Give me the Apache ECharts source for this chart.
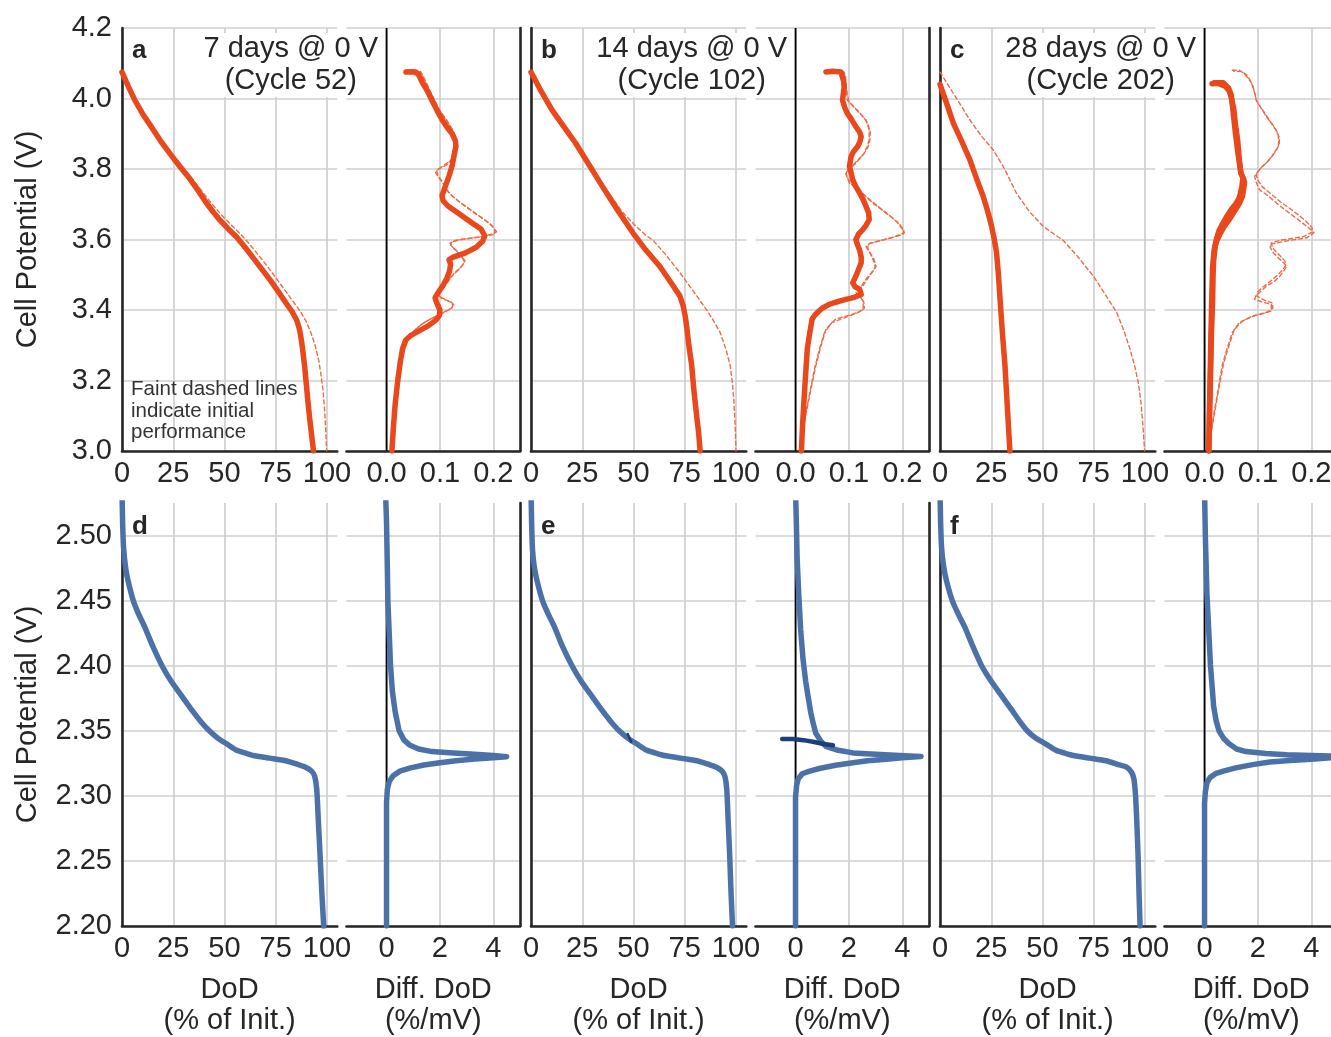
<!DOCTYPE html>
<html>
<head>
<meta charset="utf-8">
<script src="https://cdn.jsdelivr.net/npm/echarts@6/dist/echarts.min.js"></script>
<style>
  html, body { margin: 0; padding: 0; background: #ffffff; }
  #chart { width: 1331px; height: 1037px; }
</style>
</head>
<body>
<div id="chart"></div>
<script>
// ---- Text content ----------------------------------------------------------
const storageLabels = ['7 days @ 0 V', '14 days @ 0 V', '28 days @ 0 V'];
const cycleLabels = ['(Cycle 52)', '(Cycle 102)', '(Cycle 202)'];
const panelLetters = ['a', 'b', 'c', 'd', 'e', 'f'];
const noteLines = ['Faint dashed lines', 'indicate initial', 'performance'];
const yAxisTitle = 'Cell Potential (V)';
const dodAxisTitle = ['DoD', '(% of Init.)'];
const diffAxisTitle = ['Diff. DoD', '(%/mV)'];

// ---- Tick labels -----------------------------------------------------------
const voltTopTicks = ['3.0', '3.2', '3.4', '3.6', '3.8', '4.0', '4.2'];
const voltBottomTicks = ['2.20', '2.25', '2.30', '2.35', '2.40', '2.45', '2.50'];
const dodTicks = ['0', '25', '50', '75', '100'];
const diffTopTicks = ['0.0', '0.1', '0.2'];
const diffBottomTicks = ['0', '2', '4'];

// ---- Reference line in the differential panels -----------------------------
const zeroDiff = 0;

// ---- Top row: NMC cells, discharge curves [DoD %, V] ----------------------
const aDodNow = [[0,4.075],[3,4.035],[6.3,3.995],[10,3.957],[14.5,3.918],[19,3.878],[24.5,3.835],[28.5,3.805],[32.7,3.775],[37,3.74],[41,3.705],[44.5,3.678],[47.6,3.656],[51.5,3.632],[55.9,3.607],[60,3.578],[64,3.548],[68.2,3.516],[72.4,3.484],[76.5,3.45],[80,3.42],[83,3.395],[85.3,3.37],[86.6,3.345],[87.5,3.315],[88.3,3.28],[89.1,3.24],[89.9,3.19],[90.7,3.14],[91.6,3.09],[92.5,3.045],[93.4,3.0]];
const aDodInit = [[0,4.075],[3.3,4.035],[6.8,3.995],[11,3.955],[15.5,3.915],[20.5,3.873],[26,3.832],[30.5,3.8],[35,3.767],[39.5,3.733],[44,3.7],[48.5,3.67],[53,3.643],[57.5,3.617],[61.5,3.592],[66,3.56],[70.5,3.527],[75,3.492],[79,3.46],[83,3.428],[86.8,3.398],[89.8,3.368],[92.2,3.335],[94.2,3.3],[95.8,3.262],[97,3.22],[98,3.175],[98.8,3.12],[99.4,3.06],[99.8,3.0]];

const bDodNow = [[0,4.075],[5,4.02],[10.3,3.967],[16,3.92],[21.8,3.873],[28,3.815],[34.9,3.75],[42,3.685],[49.7,3.619],[56,3.57],[62.8,3.524],[68,3.48],[72.6,3.44],[74.3,3.41],[75.3,3.38],[76,3.35],[77,3.3],[78.4,3.242],[79.5,3.17],[80.8,3.1],[81.8,3.05],[82.5,3.0]];
const bDodInit = [[0,4.075],[5,4.02],[10,3.97],[15,3.925],[20.2,3.88],[29,3.8],[38.2,3.73],[45,3.675],[51.3,3.637],[56,3.612],[59.5,3.598],[66,3.555],[72.6,3.506],[79,3.455],[85.7,3.4],[89,3.37],[92.3,3.336],[95,3.29],[97.2,3.242],[98.3,3.19],[98.9,3.148],[99.6,3.07],[100,3.0]];

const cDodNow = [[0,4.04],[3,3.99],[6.5,3.93],[10.5,3.88],[14.6,3.826],[18,3.77],[21.1,3.722],[23.5,3.675],[25.2,3.637],[26.5,3.6],[27.6,3.562],[28.5,3.5],[29.3,3.43],[30.5,3.33],[31.7,3.242],[32.9,3.12],[34.1,3.0]];
const cDodInit = [[0,4.075],[7,4.01],[14.6,3.939],[20,3.895],[26,3.854],[31.5,3.8],[37.4,3.73],[43.5,3.68],[50.4,3.637],[55,3.618],[60,3.598],[67,3.553],[74.8,3.496],[80.5,3.445],[86.2,3.393],[89.8,3.34],[92.7,3.289],[95,3.24],[96.7,3.195],[98,3.14],[99,3.07],[99.8,3.0]];

// ---- Top row: differential DoD [%/mV, V] ----------------------------------
const aDiffNow = [[0.0365,4.075],[0.05,4.076],[0.059,4.07],[0.064,4.055],[0.069,4.04],[0.077,4.02],[0.085,3.995],[0.095,3.965],[0.104,3.94],[0.115,3.915],[0.123,3.9],[0.129,3.88],[0.13,3.865],[0.128,3.85],[0.123,3.81],[0.117,3.78],[0.11,3.75],[0.104,3.725],[0.106,3.71],[0.115,3.695],[0.136,3.673],[0.162,3.645],[0.177,3.63],[0.184,3.61],[0.18,3.595],[0.168,3.578],[0.148,3.562],[0.125,3.55],[0.117,3.543],[0.12,3.53],[0.118,3.51],[0.113,3.49],[0.106,3.47],[0.097,3.45],[0.091,3.435],[0.094,3.42],[0.1,3.4],[0.099,3.385],[0.093,3.372],[0.078,3.355],[0.06,3.34],[0.045,3.327],[0.036,3.315],[0.03,3.29],[0.026,3.255],[0.021,3.2],[0.016,3.13],[0.013,3.07],[0.01,3.0]];
const aDiffInitA = [[0.038,4.08],[0.052,4.082],[0.063,4.078],[0.07,4.06],[0.076,4.04],[0.085,4.01],[0.094,3.98],[0.104,3.955],[0.116,3.93],[0.126,3.905],[0.131,3.88],[0.131,3.86],[0.126,3.835],[0.113,3.812],[0.097,3.8],[0.092,3.79],[0.098,3.775],[0.107,3.758],[0.113,3.74],[0.124,3.722],[0.142,3.7],[0.165,3.675],[0.187,3.652],[0.2,3.635],[0.206,3.622],[0.198,3.613],[0.165,3.605],[0.13,3.598],[0.119,3.59],[0.124,3.578],[0.134,3.562],[0.142,3.548],[0.146,3.536],[0.14,3.522],[0.127,3.505],[0.115,3.48],[0.104,3.46],[0.096,3.445],[0.104,3.432],[0.12,3.424],[0.126,3.415],[0.122,3.405],[0.105,3.392],[0.083,3.375],[0.066,3.36],[0.052,3.342],[0.041,3.32],[0.034,3.29],[0.028,3.25],[0.022,3.19],[0.017,3.12],[0.013,3.06],[0.011,3.0]];
const aDiffInitB = [[0.04,4.078],[0.058,4.078],[0.066,4.07],[0.072,4.05],[0.08,4.025],[0.09,3.995],[0.1,3.965],[0.112,3.94],[0.122,3.915],[0.129,3.89],[0.132,3.87],[0.13,3.848],[0.122,3.825],[0.105,3.808],[0.094,3.795],[0.097,3.78],[0.104,3.765],[0.11,3.748],[0.118,3.73],[0.134,3.71],[0.155,3.687],[0.178,3.662],[0.196,3.642],[0.203,3.627],[0.202,3.617],[0.178,3.608],[0.14,3.6],[0.122,3.593],[0.12,3.584],[0.13,3.57],[0.138,3.556],[0.147,3.54],[0.143,3.528],[0.133,3.512],[0.12,3.492],[0.108,3.468],[0.1,3.452],[0.098,3.44],[0.112,3.428],[0.123,3.42],[0.124,3.41],[0.114,3.398],[0.094,3.383],[0.074,3.368],[0.058,3.35],[0.046,3.33],[0.037,3.305],[0.03,3.27],[0.024,3.22],[0.018,3.15],[0.014,3.08],[0.011,3.0]];

const bDiffNow = [[0.057,4.075],[0.07,4.077],[0.085,4.075],[0.09,4.05],[0.091,4.033],[0.088,3.995],[0.092,3.975],[0.097,3.958],[0.105,3.94],[0.113,3.92],[0.12,3.905],[0.123,3.892],[0.12,3.875],[0.116,3.863],[0.108,3.848],[0.104,3.835],[0.101,3.807],[0.104,3.79],[0.107,3.77],[0.113,3.75],[0.12,3.732],[0.126,3.715],[0.132,3.694],[0.137,3.675],[0.138,3.656],[0.132,3.64],[0.126,3.628],[0.118,3.615],[0.113,3.6],[0.116,3.585],[0.12,3.57],[0.123,3.55],[0.123,3.534],[0.118,3.515],[0.113,3.496],[0.107,3.477],[0.112,3.465],[0.12,3.459],[0.123,3.444],[0.11,3.436],[0.094,3.43],[0.075,3.422],[0.063,3.416],[0.05,3.405],[0.044,3.397],[0.036,3.385],[0.031,3.374],[0.026,3.33],[0.022,3.289],[0.019,3.22],[0.016,3.148],[0.013,3.07],[0.011,3.0]];
const bDiffInitA = [[0.063,4.08],[0.08,4.08],[0.091,4.075],[0.095,4.03],[0.097,3.995],[0.11,3.975],[0.125,3.95],[0.132,3.939],[0.138,3.91],[0.138,3.882],[0.133,3.86],[0.129,3.845],[0.113,3.816],[0.1,3.8],[0.094,3.788],[0.097,3.775],[0.101,3.76],[0.115,3.745],[0.126,3.73],[0.145,3.703],[0.17,3.675],[0.19,3.65],[0.201,3.628],[0.204,3.619],[0.18,3.605],[0.14,3.59],[0.132,3.58],[0.14,3.56],[0.145,3.543],[0.151,3.524],[0.145,3.51],[0.138,3.496],[0.126,3.468],[0.113,3.45],[0.12,3.44],[0.126,3.426],[0.127,3.41],[0.126,3.4],[0.107,3.388],[0.075,3.374],[0.057,3.346],[0.048,3.3],[0.038,3.242],[0.028,3.17],[0.019,3.1],[0.013,3.04],[0.009,3.0]];
const bDiffInitB = [[0.066,4.078],[0.084,4.078],[0.093,4.07],[0.096,4.02],[0.1,3.99],[0.115,3.968],[0.128,3.946],[0.135,3.93],[0.14,3.905],[0.139,3.878],[0.134,3.856],[0.125,3.838],[0.108,3.812],[0.097,3.797],[0.095,3.785],[0.099,3.77],[0.106,3.755],[0.118,3.74],[0.132,3.722],[0.152,3.697],[0.176,3.668],[0.194,3.645],[0.203,3.627],[0.201,3.614],[0.17,3.601],[0.137,3.588],[0.135,3.576],[0.142,3.556],[0.148,3.54],[0.149,3.52],[0.142,3.505],[0.133,3.49],[0.121,3.462],[0.116,3.448],[0.123,3.436],[0.128,3.422],[0.129,3.405],[0.118,3.393],[0.095,3.38],[0.068,3.364],[0.054,3.335],[0.045,3.29],[0.035,3.23],[0.026,3.16],[0.017,3.09],[0.012,3.03],[0.009,3.0]];

const cDiffNowA = [[0.014,4.042],[0.025,4.043],[0.039,4.035],[0.046,4.022],[0.049,4.01],[0.052,3.99],[0.055,3.967],[0.058,3.925],[0.062,3.882],[0.065,3.83],[0.068,3.788],[0.073,3.772],[0.075,3.762],[0.073,3.74],[0.071,3.722],[0.066,3.705],[0.062,3.694],[0.054,3.675],[0.046,3.656],[0.037,3.637],[0.03,3.619],[0.024,3.6],[0.02,3.581],[0.017,3.54],[0.016,3.5],[0.015,3.42],[0.013,3.336],[0.011,3.2],[0.009,3.08],[0.008,3.0]];
const cDiffNowB = [[0.018,4.045],[0.035,4.045],[0.045,4.03],[0.05,4.01],[0.053,3.97],[0.058,3.9],[0.063,3.84],[0.068,3.79],[0.072,3.775],[0.07,3.75],[0.067,3.73],[0.064,3.715],[0.058,3.7],[0.05,3.685],[0.042,3.666],[0.034,3.645],[0.027,3.625],[0.022,3.6],[0.018,3.57],[0.015,3.52],[0.013,3.4],[0.011,3.25],[0.009,3.1],[0.008,3.0]];
const cDiffInitA = [[0.052,4.08],[0.065,4.08],[0.075,4.07],[0.085,4.05],[0.09,4.04],[0.095,4.01],[0.097,3.995],[0.105,3.975],[0.116,3.948],[0.128,3.925],[0.138,3.9],[0.139,3.88],[0.138,3.863],[0.13,3.845],[0.122,3.826],[0.11,3.81],[0.1,3.793],[0.094,3.779],[0.096,3.765],[0.103,3.741],[0.118,3.725],[0.135,3.703],[0.15,3.685],[0.167,3.666],[0.185,3.645],[0.199,3.628],[0.205,3.619],[0.192,3.605],[0.15,3.595],[0.122,3.586],[0.124,3.575],[0.129,3.562],[0.14,3.545],[0.148,3.534],[0.154,3.524],[0.148,3.51],[0.141,3.496],[0.13,3.48],[0.116,3.468],[0.103,3.45],[0.096,3.44],[0.094,3.43],[0.11,3.422],[0.125,3.416],[0.125,3.397],[0.11,3.39],[0.09,3.383],[0.065,3.364],[0.052,3.336],[0.042,3.29],[0.033,3.242],[0.025,3.17],[0.017,3.1],[0.011,3.04],[0.008,3.0]];
const cDiffInitB = [[0.055,4.077],[0.07,4.077],[0.08,4.065],[0.088,4.045],[0.093,4.02],[0.098,3.99],[0.11,3.965],[0.122,3.937],[0.134,3.91],[0.14,3.89],[0.14,3.87],[0.134,3.852],[0.126,3.835],[0.114,3.815],[0.104,3.8],[0.097,3.785],[0.099,3.77],[0.108,3.75],[0.124,3.73],[0.142,3.707],[0.158,3.69],[0.174,3.672],[0.19,3.652],[0.201,3.634],[0.203,3.622],[0.185,3.608],[0.142,3.598],[0.125,3.59],[0.127,3.578],[0.134,3.565],[0.144,3.55],[0.151,3.538],[0.152,3.526],[0.145,3.512],[0.136,3.498],[0.124,3.482],[0.11,3.466],[0.1,3.452],[0.098,3.44],[0.113,3.427],[0.127,3.42],[0.128,3.405],[0.117,3.394],[0.096,3.385],[0.072,3.37],[0.056,3.345],[0.046,3.3],[0.036,3.25],[0.027,3.18],[0.019,3.11],[0.012,3.05],[0.008,3.0]];

// ---- Bottom row: LTO cells, discharge curves [DoD %, V] -------------------
const dDod = [[0,2.535],[0.3,2.51],[0.8,2.49],[1.8,2.475],[3,2.465],[5.5,2.45],[8,2.44],[11,2.43],[15,2.415],[19.5,2.4],[24,2.388],[29,2.377],[34,2.366],[38.5,2.357],[42.6,2.35],[47,2.344],[51,2.34],[56,2.335],[60,2.333],[64,2.331],[72,2.329],[80,2.327],[86,2.324],[89.5,2.322],[92.5,2.319],[94,2.315],[95,2.305],[95.8,2.28],[96.6,2.255],[97.5,2.225],[98.4,2.2]];
const eDod = [[0,2.535],[0.3,2.51],[0.7,2.49],[1.6,2.476],[3,2.465],[5.6,2.45],[8.3,2.44],[11.4,2.43],[15.3,2.415],[20,2.4],[24.5,2.388],[29.5,2.377],[34.5,2.366],[39,2.357],[43,2.35],[47.5,2.344],[51.5,2.34],[56.5,2.335],[60.5,2.333],[65,2.331],[73,2.329],[81,2.327],[87,2.324],[90.5,2.322],[93.2,2.319],[94.6,2.315],[95.5,2.305],[96.2,2.28],[96.9,2.255],[97.6,2.225],[98.3,2.2]];
const fDod = [[0,2.535],[0.3,2.51],[0.8,2.49],[1.8,2.476],[3.2,2.465],[6,2.45],[8.8,2.44],[12,2.43],[16,2.415],[20.3,2.4],[25,2.388],[30,2.377],[35,2.366],[39,2.357],[42.5,2.35],[47,2.344],[51.5,2.34],[56.5,2.335],[60.5,2.333],[65,2.331],[73,2.329],[81,2.327],[87,2.324],[91,2.322],[93.5,2.318],[94.6,2.313],[95.4,2.3],[96,2.28],[96.6,2.255],[97.1,2.225],[97.6,2.2]];
const eDodTrace = [[47.2,2.3475],[48,2.3445],[48.8,2.3415]];

// ---- Bottom row: differential DoD [%/mV, V] -------------------------------
const dDiff = [[-0.04,2.535],[0,2.51],[0.03,2.475],[0.05,2.45],[0.1,2.425],[0.15,2.4],[0.22,2.38],[0.32,2.365],[0.47,2.35],[0.65,2.343],[0.86,2.339],[1.2,2.336],[1.7,2.334],[2.5,2.333],[3.3,2.332],[4,2.331],[4.5,2.33],[4,2.3293],[3.3,2.3283],[2.6,2.327],[2,2.3255],[1.4,2.3237],[0.9,2.3215],[0.5,2.319],[0.25,2.3155],[0.1,2.311],[0.03,2.305],[0,2.295],[0,2.2]];
const eDiff = [[0,2.535],[0.03,2.51],[0.06,2.482],[0.12,2.455],[0.19,2.428],[0.28,2.405],[0.38,2.388],[0.48,2.375],[0.57,2.364],[0.67,2.355],[0.76,2.348],[0.95,2.342],[1.14,2.338],[1.6,2.335],[2.15,2.333],[3,2.332],[3.9,2.331],[4.7,2.3302],[4,2.3292],[3.4,2.3282],[2.7,2.327],[2.15,2.3255],[1.5,2.3235],[0.89,2.321],[0.5,2.3188],[0.25,2.317],[0.1,2.313],[0.04,2.308],[0,2.299],[0,2.2]];
const fDiff = [[0,2.535],[0.03,2.5],[0.09,2.455],[0.15,2.43],[0.22,2.401],[0.28,2.385],[0.34,2.369],[0.43,2.358],[0.54,2.35],[0.72,2.344],[0.92,2.34],[1.2,2.336],[1.55,2.334],[2.3,2.3325],[3.08,2.3315],[4,2.331],[5,2.3306],[5.6,2.3304],[5,2.3296],[4,2.3282],[3.2,2.3272],[2.45,2.326],[1.8,2.324],[1.17,2.3215],[0.7,2.319],[0.41,2.317],[0.2,2.314],[0.09,2.31],[0.03,2.303],[0,2.294],[0,2.2]];
const eDiffTrace = [[-0.5,2.3437],[-0.1,2.3436],[0.3,2.3428],[0.7,2.3414],[1.05,2.3398],[1.4,2.3388]];

// ---- Styling ---------------------------------------------------------------
const FONT = "'Liberation Sans', Arial, Helvetica, sans-serif";
const TEXT = '#262626';
const SPINE = '#262626';
const GRID = '#cfcfcf';
const ORANGE = '#e8481c';
const ORANGE_FAINT = '#ee6b49';
const BLUE = '#4c71a9';
const NAVY = '#1c3f78';

const colLeft = [122, 531, 940];
const rowTop = [28, 503];
const plotH = 423;
const dodW = 215.25;
const diffOffset = 224.5;
const diffW = 173.5;
const headingRight = 256;   // right edge of the heading block, from the panel's left spine

// Axis ranges: [min, max, step]
const dodRange = [0, 105, 5];
const diffTopRange = [-0.075, 0.25, 0.025];
const diffBottomRange = [-1.5, 5, 0.5];
const voltTopRange = [3.0, 4.2, 0.2];
const voltBottomRange = [2.2, 2.525, 0.025];

function labelFormatter(labels) {
  const vals = labels.map(Number);
  return function (v) {
    for (let i = 0; i < vals.length; i++) {
      if (Math.abs(v - vals[i]) < 1e-7) return labels[i];
    }
    return '';
  };
}
function splitColors(labels, range) {
  const vals = labels.map(Number);
  const n = Math.round((range[1] - range[0]) / range[2]);
  const out = [];
  for (let k = 0; k <= n; k++) {
    const v = range[0] + k * range[2];
    out.push(vals.some(t => Math.abs(t - v) < 1e-7) ? GRID : 'rgba(0,0,0,0)');
  }
  return out;
}

const grids = [], xAxes = [], yAxes = [], series = [];

function addPanel(opts) {
  const idx = grids.length;
  grids.push({ left: opts.left, top: opts.top, width: opts.width, height: plotH,
               containLabel: false, outerBoundsMode: 'none' });
  const xr = opts.xRange, yr = opts.yRange;
  const xAxis = {
    gridIndex: idx, type: 'value', position: 'bottom',
    min: xr[0], max: xr[1], interval: xr[2],
    axisLine: { show: true, onZero: false, lineStyle: { color: SPINE, width: 2.6 } },
    axisTick: { show: false },
    axisLabel: { show: true, margin: 8, fontSize: 29, color: TEXT, fontFamily: FONT,
                 formatter: labelFormatter(opts.xLabels), showMinLabel: true, showMaxLabel: true },
    splitLine: { show: true, showMinLine: true, showMaxLine: true,
                 lineStyle: { color: splitColors(opts.xLabels, xr), width: 1.7 } }
  };
  if (opts.xName) {
    xAxis.name = opts.xName.join('\n');
    xAxis.nameLocation = 'middle';
    xAxis.nameGap = 48;
    xAxis.nameTextStyle = { fontSize: 29, color: TEXT, fontFamily: FONT, lineHeight: 31 };
  }
  xAxes.push(xAxis);
  const yAxis = {
    gridIndex: idx, type: 'value', position: opts.yPos,
    min: yr[0], max: yr[1], interval: yr[2],
    axisLine: { show: true, onZero: false, lineStyle: { color: SPINE, width: 2.6 } },
    axisTick: { show: false },
    axisLabel: { show: !!opts.showYLabels, margin: 10, fontSize: 29, color: TEXT, fontFamily: FONT,
                 formatter: labelFormatter(opts.yLabels), showMinLabel: true, showMaxLabel: true },
    splitLine: { show: true, showMinLine: true, showMaxLine: true,
                 lineStyle: { color: splitColors(opts.yLabels, yr), width: 1.7 } }
  };
  if (opts.yName) {
    yAxis.name = opts.yName;
    yAxis.nameLocation = 'middle';
    yAxis.nameGap = 80;
    yAxis.nameTextStyle = { fontSize: 29, color: TEXT, fontFamily: FONT };
  }
  yAxes.push(yAxis);

  if (opts.zeroLine) {
    series.push({
      type: 'line', xAxisIndex: idx, yAxisIndex: idx, silent: true, symbol: 'none', z: 2,
      data: [[zeroDiff, yr[0]], [zeroDiff, yr[1]]],
      lineStyle: { color: '#000000', width: 1.8 }
    });
  }
  opts.lines.forEach(function (ln) {
    series.push({
      type: 'line', xAxisIndex: idx, yAxisIndex: idx, silent: true, symbol: 'none',
      z: ln.z || 3, clip: true, animation: false,
      smooth: ln.smooth || false,
      data: ln.data,
      lineStyle: Object.assign({ color: ln.color, width: ln.width, cap: 'round', join: 'round' },
                               ln.dash ? { type: ln.dash, dashOffset: ln.dashOffset || 0 } : {}),
      emphasis: { disabled: true }
    });
  });
}

const thick = (data) => ({ data: data, color: ORANGE, width: 5.5 });
const faint = (data, off) => ({ data: data, color: ORANGE_FAINT, width: 1.4, dash: [4, 3], dashOffset: off || 0, z: 2.5 });
const blue = (data, smooth) => ({ data: data, color: BLUE, width: 5.5, smooth: smooth || false });

const topDod = [[aDodNow, aDodInit], [bDodNow, bDodInit], [cDodNow, cDodInit]];
const topDiff = [
  { now: [aDiffNow], init: [aDiffInitA, aDiffInitB] },
  { now: [bDiffNow], init: [bDiffInitA, bDiffInitB] },
  { now: [cDiffNowA, cDiffNowB], init: [cDiffInitA, cDiffInitB] }
];
const bottomDod = [dDod, eDod, fDod];
const bottomDiff = [dDiff, eDiff, fDiff];

for (let c = 0; c < 3; c++) {
  addPanel({
    left: colLeft[c], top: rowTop[0], width: dodW,
    xRange: dodRange, yRange: voltTopRange, xLabels: dodTicks, yLabels: voltTopTicks,
    yPos: 'left', showYLabels: c === 0, yName: c === 0 ? yAxisTitle : null,
    lines: [faint(topDod[c][1]), thick(topDod[c][0])]
  });
  addPanel({
    left: colLeft[c] + diffOffset, top: rowTop[0], width: diffW,
    xRange: diffTopRange, yRange: voltTopRange, xLabels: diffTopTicks, yLabels: voltTopTicks,
    yPos: 'right', showYLabels: false, zeroLine: true,
    lines: [faint(topDiff[c].init[0], 0), faint(topDiff[c].init[1], 3.5)].concat(topDiff[c].now.map(thick))
  });
}
for (let c = 0; c < 3; c++) {
  const dodLines = [blue(bottomDod[c], 0.2)];
  if (c === 1) dodLines.push({ data: eDodTrace, color: NAVY, width: 2.5, z: 4 });
  addPanel({
    left: colLeft[c], top: rowTop[1], width: dodW,
    xRange: dodRange, yRange: voltBottomRange, xLabels: dodTicks, yLabels: voltBottomTicks,
    yPos: 'left', showYLabels: c === 0, yName: c === 0 ? yAxisTitle : null, xName: dodAxisTitle,
    lines: dodLines
  });
  const diffLines = [blue(bottomDiff[c])];
  if (c === 1) diffLines.push({ data: eDiffTrace, color: NAVY, width: 4.5, z: 4 });
  addPanel({
    left: colLeft[c] + diffOffset, top: rowTop[1], width: diffW,
    xRange: diffBottomRange, yRange: voltBottomRange, xLabels: diffBottomTicks, yLabels: voltBottomTicks,
    yPos: 'right', showYLabels: false, zeroLine: true, xName: diffAxisTitle,
    lines: diffLines
  });
}

// Headings: block right-aligned, lines centred within the block
const measureCtx = document.createElement('canvas').getContext('2d');
measureCtx.font = '29px ' + FONT;
const graphics = [];
for (let c = 0; c < 3; c++) {
  const w = Math.max(measureCtx.measureText(storageLabels[c]).width, measureCtx.measureText(cycleLabels[c]).width);
  graphics.push({
    type: 'text', x: colLeft[c] + headingRight - w / 2, y: 33, z: 100,
    style: {
      text: storageLabels[c] + '\n' + cycleLabels[c],
      font: '29px ' + FONT, fill: TEXT, align: 'center', verticalAlign: 'top',
      textAlign: 'center', textVerticalAlign: 'top', lineHeight: 32,
      backgroundColor: '#ffffff', padding: [0, 2, 0, 2]
    }
  });
}
for (let i = 0; i < 6; i++) {
  const r = Math.floor(i / 3), c = i % 3;
  graphics.push({
    type: 'text', x: colLeft[c] + 10, y: r === 0 ? 51 : 527, z: 100,
    style: {
      text: panelLetters[i], font: 'bold 26px ' + FONT, fill: TEXT,
      align: 'left', verticalAlign: 'middle', textAlign: 'left', textVerticalAlign: 'middle'
    }
  });
}
graphics.push({
  type: 'text', x: 131, y: 379, z: 100,
  style: {
    text: noteLines.join('\n'), font: '20.5px ' + FONT, fill: '#333333',
    align: 'left', verticalAlign: 'top', textAlign: 'left', textVerticalAlign: 'top', lineHeight: 21.5
  }
});

const chart = echarts.init(document.getElementById('chart'), null, { renderer: 'canvas', width: 1331, height: 1037 });
chart.setOption({
  backgroundColor: '#ffffff',
  animation: false,
  grid: grids,
  xAxis: xAxes,
  yAxis: yAxes,
  series: series,
  graphic: graphics
});
</script>
</body>
</html>
